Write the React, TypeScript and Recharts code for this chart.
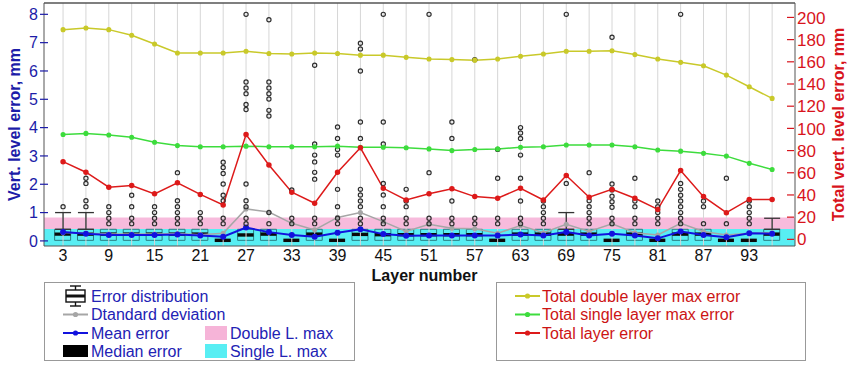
import React from 'react'
import {
  ComposedChart,
  Line,
  Bar,
  Scatter,
  XAxis,
  YAxis,
  ReferenceArea,
  ReferenceLine,
  ErrorBar,
  Label,
} from 'recharts'

const LAYERS = [3, 6, 9, 12, 15, 18, 21, 24, 27, 30, 33, 36, 39, 42, 45, 48, 51, 54, 57, 60, 63, 66, 69, 72, 75, 78, 81, 84, 87, 90, 93, 96]
const X_TICKS = [3, 9, 15, 21, 27, 33, 39, 45, 51, 57, 63, 69, 75, 81, 87, 93]
const LEFT_TICKS = [0, 1, 2, 3, 4, 5, 6, 7, 8]
const RIGHT_TICKS = [0, 20, 40, 60, 80, 100, 120, 140, 160, 180, 200]

// total errors, right axis (mm)
const DOUBLE_MAX = [189, 190.5, 189, 184, 176, 168, 168, 168, 169.5, 167.5, 167, 168, 167.5, 166, 166, 164, 162.5, 162, 161.5, 162.5, 165, 167, 169.5, 169.5, 170, 166.5, 162.5, 159.5, 156.5, 148, 137.5, 127]
const SINGLE_MAX = [94.5, 95.5, 94, 92, 87.5, 84.5, 83.5, 83.5, 84, 83.5, 83.5, 83.5, 84, 83, 83, 82.5, 81.5, 80, 81, 81.5, 83, 83.5, 85, 85, 85, 83.5, 80.5, 79.5, 77.5, 75, 68.5, 63]
const TOTAL = [70, 60.5, 47, 48.5, 41, 51, 40.5, 31, 94.5, 67, 42.5, 32.5, 60.5, 82.5, 46, 35.5, 41, 45.5, 38.5, 37, 46, 35.5, 57.5, 38, 45, 37, 27, 62, 38.5, 24, 36, 36]

// per layer stats, left axis (mm)
const STD_DEV = [0.3, 0.27, 0.24, 0.24, 0.24, 0.26, 0.22, 0.27, 1.13, 1.02, 0.62, 0.39, 0.83, 1.0, 0.68, 0.33, 0.59, 0.45, 0.43, 0.27, 0.54, 0.29, 0.59, 0.33, 0.6, 0.29, 0.21, 0.62, 0.33, 0.21, 0.27, 0.29]
const MEAN = [0.31, 0.25, 0.21, 0.21, 0.21, 0.23, 0.19, 0.15, 0.47, 0.31, 0.21, 0.15, 0.29, 0.41, 0.24, 0.18, 0.19, 0.19, 0.19, 0.19, 0.23, 0.19, 0.31, 0.19, 0.25, 0.19, 0.09, 0.33, 0.21, 0.13, 0.27, 0.25]
const MEDIAN = [0.24, 0.24, 0.24, 0.24, 0.24, 0.24, 0.24, 0.02, 0.21, 0.24, 0.02, 0.24, 0.02, 0.23, 0.22, 0.22, 0.22, 0.22, 0.22, 0.02, 0.24, 0.24, 0.24, 0.24, 0.02, 0.24, 0.02, 0.24, 0.24, 0.02, 0.02, 0.24]
const Q1 = [0.02, 0.02, 0.02, 0.02, 0.02, 0.02, 0.02, null, 0.02, 0.02, null, 0.02, null, 0.02, 0.02, 0.02, 0.02, 0.02, 0.02, null, 0.02, 0.02, 0.02, 0.02, null, 0.02, null, 0.02, 0.02, null, null, 0.02]
const Q3 = [0.41, 0.41, 0.41, 0.41, 0.41, 0.41, 0.41, null, 0.41, 0.41, null, 0.41, null, 0.41, 0.41, 0.41, 0.41, 0.41, 0.41, null, 0.41, 0.41, 0.41, 0.41, null, 0.41, null, 0.41, 0.41, null, null, 0.41]

const WHISKER_LAYERS = [3, 6, 69, 96]
const WHISKER_HIGH = [1.0, 1.0, 1.0, 0.8]

const OUTLIERS: [number, number[]][] = [
  [3, [1.21]],
  [6, [2.21, 2.03, 1.42, 1.21]],
  [9, [1.21, 1.0, 0.8, 0.61]],
  [12, [1.61, 1.21, 0.8, 0.61]],
  [15, [1.21, 1.0, 0.8, 0.61]],
  [18, [2.41, 1.42, 1.21, 1.0, 0.8, 0.61]],
  [21, [1.0, 0.8, 0.61]],
  [24, [2.78, 2.59, 2.38, 2.01, 1.61, 1.42, 0.8, 0.61]],
  [27, [8.0, 5.61, 5.4, 5.2, 4.82, 4.64, 2.01, 1.42, 1.21, 0.8, 0.61]],
  [30, [7.81, 5.61, 5.4, 5.2, 5.01, 4.61, 4.41, 1.0, 0.61]],
  [33, [1.8, 0.8, 0.61]],
  [36, [6.2, 3.42, 3.03, 2.79, 2.42, 2.18, 0.8, 0.61]],
  [39, [4.02, 3.62, 3.23, 3.03, 1.82, 1.21, 0.8, 0.61]],
  [42, [6.98, 6.78, 6.0, 4.2, 3.62, 1.82, 1.62, 1.41, 1.21, 0.8, 0.61]],
  [45, [8.0, 4.2, 3.42, 2.03, 1.62, 1.21, 0.8, 0.61]],
  [48, [1.82, 1.41, 1.21, 0.8, 0.61]],
  [51, [8.0, 2.41, 0.8, 0.61]],
  [54, [4.2, 3.62, 1.41, 0.8, 0.61]],
  [57, [6.4, 0.8, 0.61]],
  [60, [3.23, 2.21, 0.8, 0.61]],
  [63, [4.0, 3.81, 3.62, 3.03, 2.21, 1.41, 0.8, 0.61]],
  [66, [1.41, 1.21, 1.0, 0.8, 0.61]],
  [69, [8.0, 2.03]],
  [72, [2.41, 1.42, 1.21, 1.0, 0.8, 0.61]],
  [75, [7.19, 2.01, 1.8, 1.58, 1.38, 1.19, 0.8, 0.61]],
  [78, [2.21, 1.41, 1.21, 0.8, 0.61]],
  [81, [1.41, 1.21, 1.0, 0.8, 0.61]],
  [84, [8.0, 2.03, 1.82, 1.61, 1.41, 1.21, 1.0, 0.8, 0.61]],
  [87, [1.41, 1.21, 0.61]],
  [90, [2.21, 0.61]],
  [93, [1.41, 1.21, 1.0, 0.8, 0.61]],
]

const SINGLE_BAND = 0.42
const DOUBLE_BAND = 0.83

const X_DOMAIN = [0.5, 99]
const LEFT_DOMAIN = [-0.18, 8.4]
const RIGHT_DOMAIN = [-6, 213]

const FONT = "'Liberation Sans', Arial, sans-serif"
const AXIS_BLUE = '#1c1ca8'
const AXIS_RED = '#d8141c'
const LEGEND_BLUE = '#2222b4'
const LEGEND_RED = '#cc1414'
const FRAME = '#555'
const CYAN = '#58eef3'
const PINK = '#f6b4d8'
const YELLOW = '#c9c92a'
const GREEN = '#3ddc3d'
const RED = '#dd1a1a'
const BLUE = '#1212de'
const GRAY = '#a6a6a6'

const rows = LAYERS.map((layer, i) => ({
  layer,
  dbl: DOUBLE_MAX[i],
  sgl: SINGLE_MAX[i],
  total: TOTAL[i],
  std: STD_DEV[i],
  mean: MEAN[i],
  box: Q1[i] == null ? null : [Q1[i], Q3[i]],
  med: [MEDIAN[i] - 0.06, MEDIAN[i] + 0.06],
}))

const whiskers = WHISKER_LAYERS.map((layer, i) => {
  const q3 = Q3[LAYERS.indexOf(layer)] as number
  return { layer, v: q3, err: [0, WHISKER_HIGH[i] - q3] }
})

const outlierPoints = OUTLIERS.flatMap(([layer, vals]) => vals.map(v => ({ layer, v })))

const LeftTick = ({ x, y, payload }: any) => (
  <g>
    <line x1={x - 4} x2={x + 4} y1={y} y2={y} stroke={AXIS_BLUE} strokeWidth={1.2} />
    <text x={x - 6} y={y} dy="0.36em" textAnchor="end" fill={AXIS_BLUE} fontSize={16} fontFamily={FONT}>
      {payload.value}
    </text>
  </g>
)

const RightTick = ({ x, y, payload }: any) => (
  <g>
    <line x1={x - 8} x2={x - 1} y1={y} y2={y} stroke={AXIS_RED} strokeWidth={1.2} />
    <text x={x + 2} y={y} dy="0.36em" textAnchor="start" fill={AXIS_RED} fontSize={17} fontFamily={FONT}>
      {payload.value}
    </text>
  </g>
)

const VerticalTitle = ({ viewBox, text, color, dx }: any) => {
  const cx = viewBox.x + dx
  const cy = viewBox.y + viewBox.height / 2
  return (
    <text
      x={cx}
      y={cy}
      transform={`rotate(-90 ${cx} ${cy})`}
      textAnchor="middle"
      dominantBaseline="central"
      fill={color}
      fontSize={16}
      fontWeight="bold"
      fontFamily={FONT}
    >
      {text}
    </text>
  )
}

const XTitle = ({ viewBox }: any) => (
  <text
    x={viewBox.x + viewBox.width / 2 + 5}
    y={viewBox.y + 35}
    textAnchor="middle"
    fill="#111"
    fontSize={16}
    fontWeight="bold"
    fontFamily={FONT}
  >
    Layer number
  </text>
)

const Outlier = (props: any) => (
  <circle cx={props.cx} cy={props.cy} r={2.1} fill="none" stroke="#2e2e2e" strokeWidth={1.2} />
)

const LineIcon = ({ y, color }: { y: number; color: string }) => (
  <g>
    <line x1={63} x2={88} y1={y} y2={y} stroke={color} strokeWidth={2} />
    <circle cx={75.5} cy={y} r={2.6} fill={color} />
  </g>
)

function Legends() {
  const rowsY = [296, 314.5, 333, 351]
  const t = { fontSize: 16, fontFamily: FONT }
  return (
    <svg width={850} height={365} style={{ position: 'absolute', left: 0, top: 0, pointerEvents: 'none' }}>
      <rect x={44.5} y={282.5} width={310} height={78} fill="#fff" stroke="#999" />
      <rect x={496.5} y={282.5} width={309} height={78} fill="#fff" stroke="#999" />

      {/* error distribution glyph */}
      <g stroke="#111" strokeWidth={1.4} fill="none">
        <line x1={70} x2={81} y1={286} y2={286} />
        <line x1={75.5} x2={75.5} y1={286} y2={290} />
        <rect x={66} y={290} width={19} height={12} fill="#fff" />
        <line x1={66} x2={85} y1={296} y2={296} strokeWidth={3} />
        <line x1={75.5} x2={75.5} y1={302} y2={306} />
        <line x1={70} x2={81} y1={306} y2={306} />
      </g>
      <LineIcon y={rowsY[1]} color={GRAY} />
      <LineIcon y={rowsY[2]} color={BLUE} />
      <rect x={63} y={rowsY[3] - 6} width={25} height={12} fill="#000" />
      <rect x={205} y={rowsY[2] - 7} width={22} height={14} fill={PINK} />
      <rect x={205} y={rowsY[3] - 7} width={22} height={14} fill={CYAN} />

      <g fill={LEGEND_BLUE} {...t}>
        <text x={91} y={rowsY[0]} dy="0.36em">Error distribution</text>
        <text x={91} y={rowsY[1]} dy="0.36em">Dtandard deviation</text>
        <text x={91} y={rowsY[2]} dy="0.36em">Mean error</text>
        <text x={91} y={rowsY[3]} dy="0.36em">Median error</text>
        <text x={230} y={rowsY[2]} dy="0.36em">Double L. max</text>
        <text x={230} y={rowsY[3]} dy="0.36em">Single L. max</text>
      </g>

      <g transform="translate(452 0)">
        <LineIcon y={rowsY[0]} color={YELLOW} />
        <LineIcon y={rowsY[1]} color={GREEN} />
        <LineIcon y={rowsY[2]} color={RED} />
      </g>
      <g fill={LEGEND_RED} {...t}>
        <text x={542} y={rowsY[0]} dy="0.36em">Total double layer max error</text>
        <text x={542} y={rowsY[1]} dy="0.36em">Total single layer max error</text>
        <text x={542} y={rowsY[2]} dy="0.36em">Total layer error</text>
      </g>
    </svg>
  )
}

export default function App() {
  return (
    <div style={{ position: 'relative', width: 850, height: 365, background: '#fff' }}>
      <style>{'body{margin:0}'}</style>
      <ComposedChart width={850} height={285} data={rows} margin={{ top: 3, right: 0, bottom: 0, left: 0 }}>
        <XAxis
          dataKey="layer"
          type="number"
          domain={X_DOMAIN}
          ticks={X_TICKS}
          interval={0}
          allowDataOverflow
          height={39}
          tickSize={0}
          tickMargin={4}
          axisLine={{ stroke: FRAME }}
          tick={{ fill: '#111', fontSize: 16, fontFamily: FONT }}
        >
          <Label content={XTitle} />
        </XAxis>
        <XAxis xAxisId="box" dataKey="layer" type="number" domain={X_DOMAIN} allowDataOverflow hide />
        <XAxis xAxisId="med" dataKey="layer" type="number" domain={X_DOMAIN} allowDataOverflow hide />
        <YAxis
          yAxisId="left"
          orientation="left"
          width={44}
          domain={LEFT_DOMAIN}
          ticks={LEFT_TICKS}
          interval={0}
          allowDataOverflow
          tickSize={0}
          tickMargin={0}
          tickLine={false}
          axisLine={{ stroke: FRAME }}
          tick={<LeftTick />}
        >
          <Label content={(p: any) => <VerticalTitle {...p} text="Vert. level error, mm" color={AXIS_BLUE} dx={14} />} />
        </YAxis>
        <YAxis
          yAxisId="right"
          orientation="right"
          width={55}
          domain={RIGHT_DOMAIN}
          ticks={RIGHT_TICKS}
          interval={0}
          allowDataOverflow
          tickSize={0}
          tickMargin={0}
          tickLine={false}
          axisLine={{ stroke: FRAME }}
          tick={<RightTick />}
        >
          <Label content={(p: any) => <VerticalTitle {...p} text="Total vert. level error, mm" color={AXIS_RED} dx={43} />} />
        </YAxis>

        <ReferenceArea yAxisId="left" y1={LEFT_DOMAIN[0]} y2={SINGLE_BAND} fill={CYAN} fillOpacity={1} stroke="none" />
        <ReferenceArea yAxisId="left" y1={SINGLE_BAND} y2={DOUBLE_BAND} fill={PINK} fillOpacity={0.9} stroke="none" />
        {LAYERS.map(l => (
          <ReferenceLine key={l} yAxisId="left" x={l} stroke="#d6d6d6" strokeWidth={1} />
        ))}
        <ReferenceLine yAxisId="left" y={LEFT_DOMAIN[1]} stroke={FRAME} strokeWidth={1.5} />

        <Bar
          xAxisId="box"
          yAxisId="left"
          dataKey="box"
          barSize={16}
          fill={CYAN}
          stroke="#2b7f84"
          strokeWidth={1}
          isAnimationActive={false}
        />
        <Bar xAxisId="med" yAxisId="left" dataKey="med" barSize={16} fill="#0a0a0a" isAnimationActive={false} />
        <Scatter yAxisId="left" data={whiskers} dataKey="v" shape={() => <g />} isAnimationActive={false}>
          <ErrorBar dataKey="err" direction="y" width={8} stroke="#333" strokeWidth={1.3} />
        </Scatter>

        <Line yAxisId="left" dataKey="std" stroke={GRAY} strokeWidth={1.5} dot={{ r: 1.8, fill: GRAY, stroke: GRAY }} isAnimationActive={false} />
        <Line yAxisId="left" dataKey="mean" stroke={BLUE} strokeWidth={2} dot={{ r: 2, fill: BLUE, stroke: BLUE }} isAnimationActive={false} />
        <Scatter yAxisId="left" data={outlierPoints} dataKey="v" shape={<Outlier />} isAnimationActive={false} />

        <Line yAxisId="right" dataKey="dbl" stroke={YELLOW} strokeWidth={1.5} dot={{ r: 1.8, fill: YELLOW, stroke: YELLOW }} isAnimationActive={false} />
        <Line yAxisId="right" dataKey="sgl" stroke={GREEN} strokeWidth={1.5} dot={{ r: 1.8, fill: GREEN, stroke: GREEN }} isAnimationActive={false} />
        <Line yAxisId="right" dataKey="total" stroke={RED} strokeWidth={1.5} dot={{ r: 2, fill: RED, stroke: RED }} isAnimationActive={false} />
      </ComposedChart>
      <Legends />
    </div>
  )
}
